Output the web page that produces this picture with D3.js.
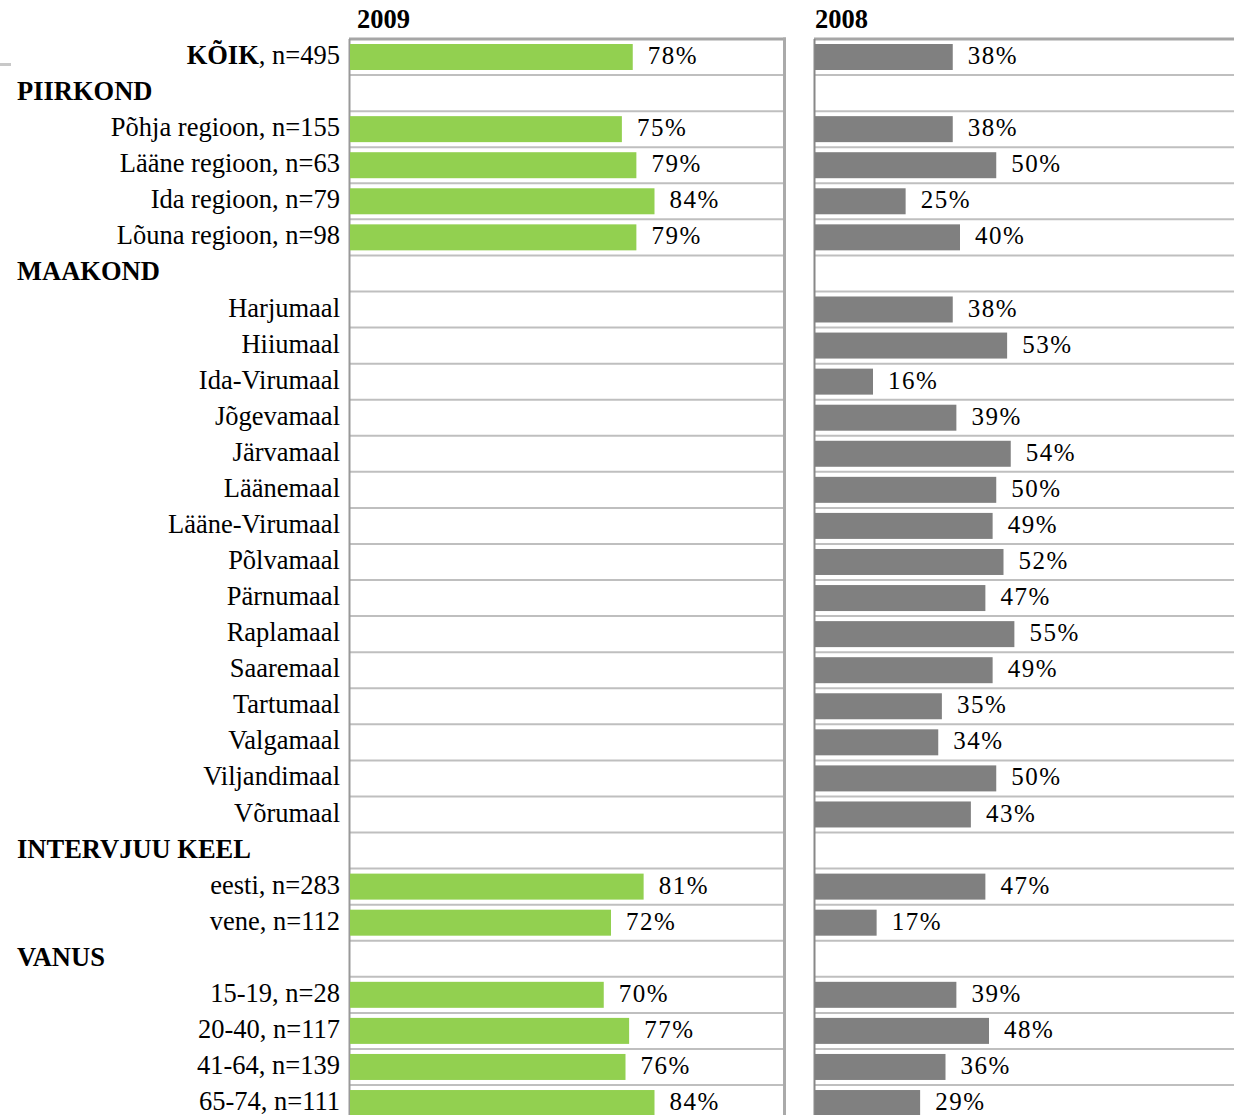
<!DOCTYPE html>
<html>
<head>
<meta charset="utf-8">
<script src="https://cdn.jsdelivr.net/npm/d3@7"></script>
<style>
  body { margin: 0; background: #fff; }
  svg { display: block; }
  text { font-family: "Liberation Serif", "Times New Roman", serif; fill: #000; }
</style>
</head>
<body>
<div id="chart"></div>
<script>
// rows top to bottom; type "head" = bold section heading, "total" = bold KÕIK row
const rowLabels = ["KÕIK", "PIIRKOND", "Põhja regioon, n=155", "Lääne regioon, n=63", "Ida regioon, n=79",
  "Lõuna regioon, n=98", "MAAKOND", "Harjumaal", "Hiiumaal", "Ida-Virumaal", "Jõgevamaal", "Järvamaal",
  "Läänemaal", "Lääne-Virumaal", "Põlvamaal", "Pärnumaal", "Raplamaal", "Saaremaal", "Tartumaal",
  "Valgamaal", "Viljandimaal", "Võrumaal", "INTERVJUU KEEL", "eesti, n=283", "vene, n=112", "VANUS",
  "15-19, n=28", "20-40, n=117", "41-64, n=139", "65-74, n=111"];
const rowTypes = ["total", "head", "", "", "", "", "head", "", "", "", "", "", "", "", "", "", "", "", "",
  "", "", "", "head", "", "", "head", "", "", "", ""];
const totalSuffix = ", n=495";

const values2009 = [78, null, 75, 79, 84, 79, null, null, null, null, null, null, null, null, null, null,
  null, null, null, null, null, null, null, 81, 72, null, 70, 77, 76, 84];
const values2008 = [38, null, 38, 50, 25, 40, null, 38, 53, 16, 39, 54, 50, 49, 52, 47, 55, 49, 35, 34,
  50, 43, null, 47, 17, null, 39, 48, 36, 29];

const panelTitles = ["2009", "2008"];

const W = 1234, H = 1115;
const svg = d3.select("#chart").append("svg").attr("width", W).attr("height", H);

const plotTop = 39, rowStep = 36.07;
const y = d3.scaleBand()
  .domain(d3.range(rowLabels.length))
  .range([plotTop, plotTop + rowStep * rowLabels.length])
  .paddingInner(0).paddingOuter(0);

const panels = [
  {title: panelTitles[0], values: values2009, color: "#92d050", x: d3.scaleLinear().domain([0, 120]).range([350, 785]), right: 784.5, axisColor: "#999", titleDx: 7},
  {title: panelTitles[1], values: values2008, color: "#808080", x: d3.scaleLinear().domain([0, 120]).range([815, 1250]), right: null, axisColor: "#888", titleDx: 0}
];

// small stray mark at top-left
svg.append("rect").attr("x", 0).attr("y", 63).attr("width", 11).attr("height", 3).attr("fill", "#c8c8c8");

panels.forEach(p => {
  const g = svg.append("g");
  const x0 = p.x(0) - 1, x1 = Math.min(p.x.range()[1], W);
  const rowIdx = d3.range(1, rowLabels.length + 1);

  // horizontal gridlines
  g.selectAll("line.grid").data(rowIdx).join("line")
    .attr("class", "grid")
    .attr("x1", x0).attr("x2", p.right ? p.right : x1)
    .attr("y1", d => y(0) + d * y.step()).attr("y2", d => y(0) + d * y.step())
    .attr("stroke", "#bfbfbf").attr("stroke-width", 2);

  // top border
  g.append("line")
    .attr("x1", x0).attr("x2", p.right ? p.right + 1.5 : x1)
    .attr("y1", y(0)).attr("y2", y(0))
    .attr("stroke", "#a6a6a6").attr("stroke-width", 3);

  // left axis
  g.append("line")
    .attr("x1", x0 + 0.5).attr("x2", x0 + 0.5)
    .attr("y1", y(0)).attr("y2", H)
    .attr("stroke", p.axisColor).attr("stroke-width", 2);

  if (p.right) {
    g.append("line")
      .attr("x1", p.right).attr("x2", p.right)
      .attr("y1", y(0) - 1.5).attr("y2", H)
      .attr("stroke", "#aaa").attr("stroke-width", 3);
  }

  const data = p.values.map((v, i) => ({i, v})).filter(d => d.v != null);

  g.selectAll("rect.bar").data(data).join("rect")
    .attr("class", "bar")
    .attr("x", p.x(0))
    .attr("y", d => y(d.i) + 5)
    .attr("width", d => p.x(d.v) - p.x(0))
    .attr("height", 26)
    .attr("fill", p.color);

  g.selectAll("text.val").data(data).join("text")
    .attr("class", "val")
    .attr("x", d => p.x(d.v) + 15)
    .attr("y", d => y(d.i) + y.bandwidth() / 2 + 7)
    .style("font-size", "25px")
    .style("letter-spacing", "1.5px")
    .text(d => d.v + "%");

  svg.append("text")
    .attr("x", p.x(0) + p.titleDx)
    .attr("y", 28)
    .style("font-size", "26.5px")
    .style("font-weight", "bold")
    .text(p.title);
});

// row labels
const labels = svg.append("g");
rowLabels.forEach((lab, i) => {
  const cy = y(i) + y.bandwidth() / 2 + 7;
  if (rowTypes[i] === "head") {
    labels.append("text").attr("x", 17).attr("y", cy)
      .style("font-size", "26.5px").style("font-weight", "bold").text(lab);
  } else if (rowTypes[i] === "total") {
    const t = labels.append("text").attr("x", 340).attr("y", cy)
      .attr("text-anchor", "end").style("font-size", "26.5px");
    t.append("tspan").style("font-weight", "bold").text(lab);
    t.append("tspan").text(totalSuffix);
  } else {
    labels.append("text").attr("x", 340).attr("y", cy)
      .attr("text-anchor", "end").style("font-size", "26.5px").text(lab);
  }
});
</script>
</body>
</html>
